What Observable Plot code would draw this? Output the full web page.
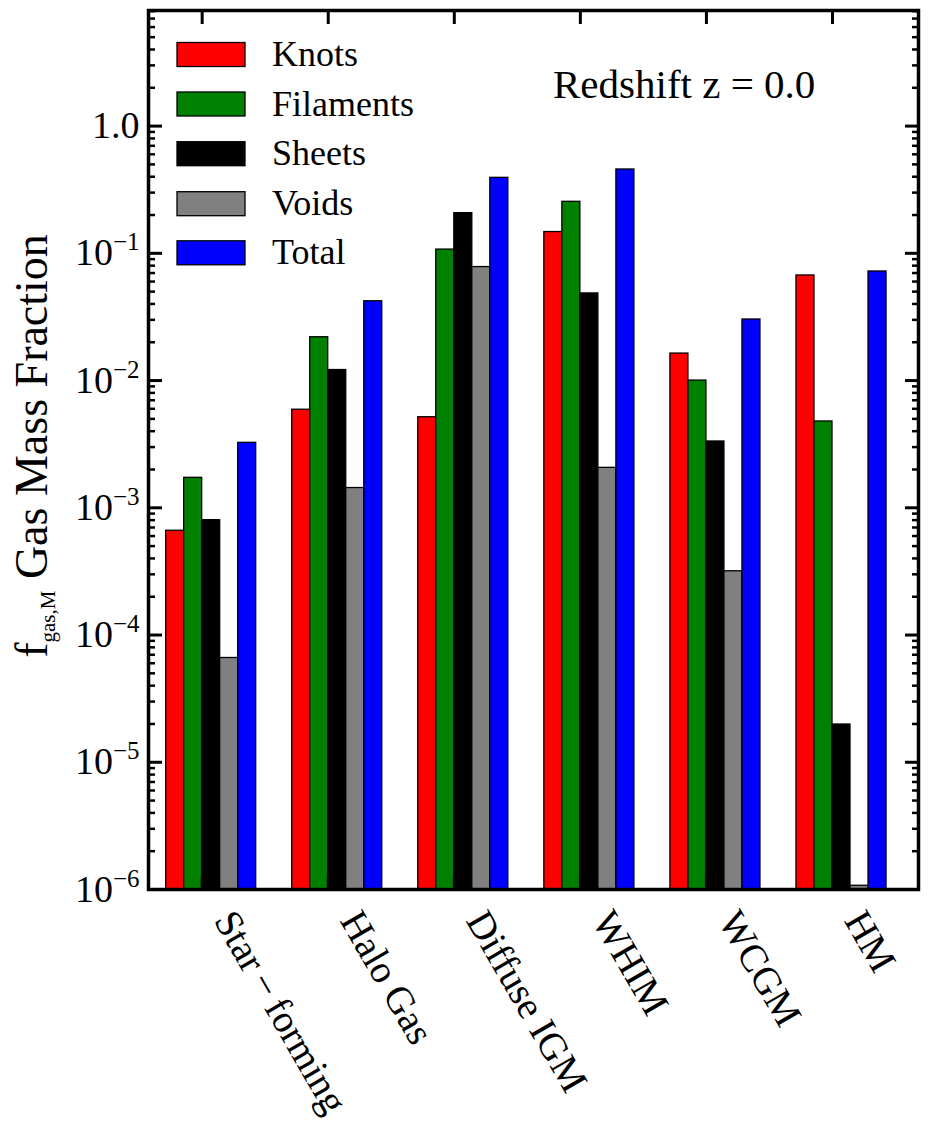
<!DOCTYPE html>
<html>
<head>
<meta charset="utf-8">
<script src="https://cdn.jsdelivr.net/npm/d3@7"></script>
<script src="https://cdn.jsdelivr.net/npm/@observablehq/plot@0.6"></script>
<style>
  body { margin: 0; background: #fff; }
  svg { display: block; }
</style>
</head>
<body>
<div id="chart"></div>
<script>
// ---------- data ----------
const categories = ["Star\u2009\u2212\u2009forming", "Halo Gas", "Diffuse IGM", "WHIM", "WCGM", "HM"];
const seriesNames = ["Knots", "Filaments", "Sheets", "Voids", "Total"];
const seriesColors = ["#ff0000", "#008000", "#000000", "#808080", "#0000ff"];

const knots     = [6.6e-4, 5.9e-3, 5.15e-3, 0.147, 0.0163, 0.067];
const filaments = [1.72e-3, 0.0219, 0.107, 0.254, 0.0100, 4.77e-3];
const sheets    = [8.0e-4, 0.0121, 0.207, 0.0484, 3.32e-3, 1.98e-5];
const voids     = [6.6e-5, 1.43e-3, 0.078, 2.06e-3, 3.17e-4, 1.07e-6];
const total     = [3.24e-3, 0.042, 0.392, 0.456, 0.0302, 0.072];

const yMajorTicks = [1e-6, 1e-5, 1e-4, 1e-3, 1e-2, 1e-1, 1];
const yTickLabels = ["10^\u22126", "10^\u22125", "10^\u22124", "10^\u22123", "10^\u22122", "10^\u22121", "1.0"];
const yDomain = [1e-6, 8.1];
const annotation = "Redshift z = 0.0";

// ---------- derived ----------
const seriesValues = [knots, filaments, sheets, voids, total];
const barWidth = 1 / 7; // in group units (like matplotlib width)
const rows = [];
categories.forEach((cat, i) => {
  seriesValues.forEach((vals, k) => {
    rows.push({cat, gi: i, si: k, series: seriesNames[k], value: vals[i]});
  });
});
const yMinorTicks = [];
for (let e = -6; e <= 0; e++) {
  for (let m = 2; m <= 9; m++) {
    const v = m * Math.pow(10, e);
    if (v <= yDomain[1]) yMinorTicks.push(v);
  }
}
const xTickPos = categories.map((c, i) => i + 2 * barWidth);
const catLabels = categories.map((c, i) => ({label: c, pos: i + 2 * barWidth}));

const FONT = "'Liberation Serif', 'Times New Roman', serif";

const svg = Plot.plot({
  width: 931,
  height: 1128,
  marginLeft: 148,
  marginRight: 13,
  marginTop: 10,
  marginBottom: 239,
  style: {fontFamily: FONT, background: "white", color: "black"},
  x: {domain: [-0.14, 5.968], axis: null},
  y: {type: "log", domain: yDomain, axis: null},
  color: {domain: seriesNames, range: seriesColors},
  marks: [
    Plot.rectY(rows, {
      x1: d => d.gi + d.si * barWidth,
      x2: d => d.gi + (d.si + 1) * barWidth,
      y1: () => yDomain[0],
      y2: "value",
      fill: "series",
      stroke: "black",
      strokeWidth: 1.3
    }),
    // y major ticks (inward) left & right
    Plot.axisY({anchor: "left", ticks: yMajorTicks, tickSize: -14, tickFormat: () => "", strokeWidth: 3, label: null}),
    Plot.axisY({anchor: "right", ticks: yMajorTicks, tickSize: -14, tickFormat: () => "", strokeWidth: 3, label: null}),
    // y minor ticks
    Plot.axisY({anchor: "left", ticks: yMinorTicks, tickSize: -7, tickFormat: () => "", strokeWidth: 2.5, label: null}),
    Plot.axisY({anchor: "right", ticks: yMinorTicks, tickSize: -7, tickFormat: () => "", strokeWidth: 2.5, label: null}),
    // y tick labels
    Plot.axisY({anchor: "left", ticks: yMajorTicks, tickSize: 0, tickPadding: 9, fontSize: 38,
      tickFormat: d => yTickLabels[yMajorTicks.findIndex(t => Math.abs(t - d) / t < 1e-9)], label: null}),
    // x ticks top & bottom (inward)
    Plot.axisX({anchor: "top", ticks: xTickPos, tickSize: -13, tickFormat: () => "", strokeWidth: 3, label: null}),
    Plot.axisX({anchor: "bottom", ticks: xTickPos, tickSize: -13, tickFormat: () => "", strokeWidth: 3, label: null}),
    // category labels, rotated
    Plot.text(catLabels, {
      x: "pos", text: "label", frameAnchor: "bottom",
      rotate: 60, textAnchor: "start", lineAnchor: "bottom",
      dx: 11, dy: 31, fontSize: 39
    }),
    Plot.frame({stroke: "black", strokeWidth: 3.5})
  ]
});

// superscript tick labels
d3.select(svg).selectAll("text").each(function () {
  const t = this.textContent;
  if (t.includes("^")) {
    const [base, exp] = t.split("^");
    const sel = d3.select(this);
    sel.text(null);
    sel.append("tspan").text(base);
    sel.append("tspan").attr("dy", "-15").attr("font-size", 25).text(exp);
  }
});

const s = d3.select(svg);
// y label
const yl = s.append("text")
  .attr("transform", "translate(47,446) rotate(-90)")
  .attr("text-anchor", "middle")
  .attr("font-family", FONT)
  .attr("font-size", 46)
  .attr("fill", "black");
yl.append("tspan").text("f");
yl.append("tspan").attr("font-size", 21).attr("dy", 8).text("gas,M");
yl.append("tspan").attr("dy", -8).text(" Gas Mass Fraction");

// legend
const legY = [54.5, 104, 153.7, 203.7, 252.8];
const leg = s.append("g").attr("font-family", FONT).attr("font-size", 36).attr("text-anchor", "start");
seriesNames.forEach((name, k) => {
  leg.append("rect")
    .attr("x", 177).attr("y", legY[k] - 12)
    .attr("width", 68).attr("height", 24)
    .attr("fill", seriesColors[k]).attr("stroke", "black").attr("stroke-width", 1.3);
  leg.append("text")
    .attr("x", 272).attr("y", legY[k] + 11.5)
    .attr("text-anchor", "start")
    .attr("fill", "black")
    .text(name);
});

// annotation
s.append("text")
  .attr("x", 553).attr("y", 98)
  .attr("text-anchor", "start")
  .attr("font-family", FONT).attr("font-size", 41).attr("fill", "black")
  .text(annotation);

document.getElementById("chart").appendChild(svg);
</script>
</body>
</html>
